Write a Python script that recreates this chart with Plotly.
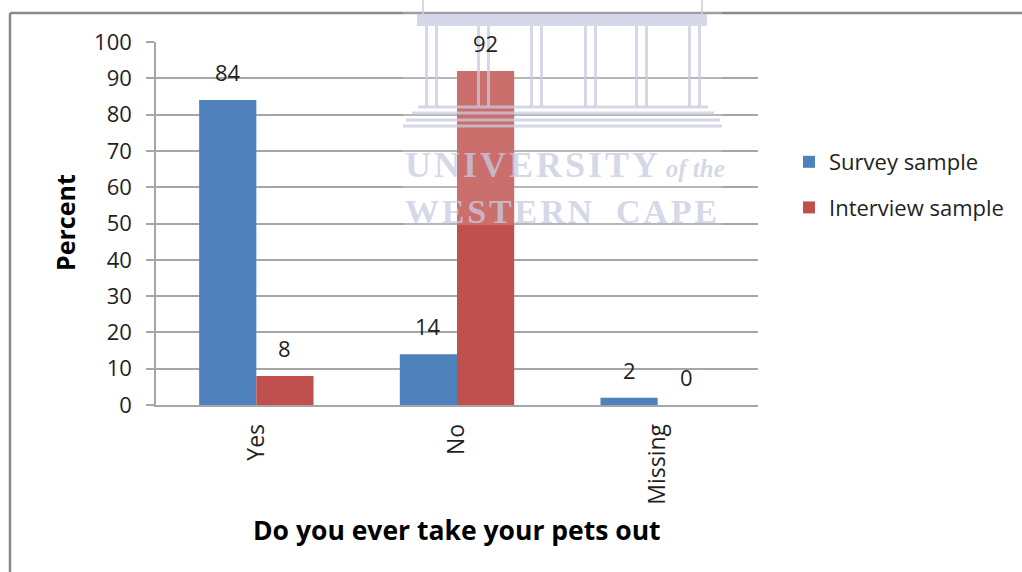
import plotly.graph_objects as go

# Responses to "Do you ever take your pets out" (percent)
categories = ["Yes", "No", "Missing"]
survey_sample = [84, 14, 2]
interview_sample = [8, 92, 0]
y_ticks = list(range(0, 101, 10))

BLUE = "#4f81bd"
RED = "#c0504d"
GRID = "#a6a6a6"
TEXT = "#1f1f1f"
FONT = "Open Sans"

W, H = 1022, 572
ML, MR, MT, MB = 156, 264, 42, 167
PW, PH = W - ML - MR, H - MT - MB
BARGAP = 0.43


def px(x):
    return (x - ML) / PW


def py(y):
    return (H - MB - y) / PH


fig = go.Figure()
fig.add_trace(go.Bar(
    name="Survey sample", x=categories, y=survey_sample,
    marker=dict(color=BLUE, line=dict(width=0)), legendgroup="a",
))
fig.add_trace(go.Bar(
    name="Interview sample", x=categories, y=interview_sample,
    marker=dict(color=RED, line=dict(width=0)), legendgroup="b",
))

# value labels above each bar, offset to the centre of its bar in the group
bar_w = PW / len(categories) * (1 - BARGAP) / 2
annotations = []
for values, shift in [(survey_sample, -bar_w / 2), (interview_sample, bar_w / 2)]:
    for cat, v in zip(categories, values):
        annotations.append(dict(
            x=cat, y=v, xref="x", yref="y", text=str(v), showarrow=False,
            xshift=shift, yshift=28, xanchor="center", yanchor="middle",
            font=dict(size=22, color=TEXT, family=FONT)))

shapes = []
# outer frame (top and left edges)
shapes.append(dict(type="line", xref="paper", yref="paper",
                   x0=px(10), x1=px(1030), y0=py(13), y1=py(13),
                   line=dict(color="#8a8a8a", width=2.5)))
shapes.append(dict(type="line", xref="paper", yref="paper",
                   x0=px(10), x1=px(10), y0=py(13), y1=py(580),
                   line=dict(color="#8a8a8a", width=2.5)))

# faint institutional watermark: building outline
WM = "rgba(200,203,225,0.75)"
shapes.append(dict(type="rect", xref="paper", yref="paper", layer="above",
                   x0=px(403), x1=px(722), y0=py(0), y1=py(225),
                   fillcolor="rgba(255,255,255,0.18)", line=dict(width=0)))
shapes.append(dict(type="rect", xref="paper", yref="paper", layer="above",
                   x0=px(417), x1=px(707), y0=py(14), y1=py(26),
                   fillcolor=WM, line=dict(width=0)))
for xx in (423, 702):
    shapes.append(dict(type="line", xref="paper", yref="paper", layer="above",
                       x0=px(xx), x1=px(xx), y0=py(0), y1=py(14),
                       line=dict(color=WM, width=2)))
for cx in [431, 483, 536, 590, 641, 694]:
    for dx in (-6, 4):
        shapes.append(dict(type="rect", xref="paper", yref="paper", layer="above",
                           x0=px(cx + dx), x1=px(cx + dx + 3), y0=py(26), y1=py(106),
                           fillcolor=WM, line=dict(width=0)))
for yy, x0, x1 in [(107, 418, 708), (113, 412, 714), (120, 406, 720), (126, 403, 722)]:
    shapes.append(dict(type="line", xref="paper", yref="paper", layer="above",
                       x0=px(x0), x1=px(x1), y0=py(yy), y1=py(yy),
                       line=dict(color=WM, width=3)))

HS = "\u200a"
annotations += [
    dict(text="Percent", x=px(65), y=py(223), xref="paper", yref="paper",
         textangle=-90, showarrow=False, xanchor="center", yanchor="middle",
         font=dict(size=25, color="#000", family=FONT, weight="bold")),
    dict(text="Do you ever take your pets out", x=px(457), y=py(530),
         xref="paper", yref="paper", showarrow=False,
         xanchor="center", yanchor="middle",
         font=dict(size=26.5, color="#000", family=FONT, weight="bold")),
    dict(text=HS.join("UNIVERSITY") + " <i><span style='font-size:25px'>of the</span></i>",
         x=px(403), y=py(165), xref="paper", yref="paper", showarrow=False,
         xanchor="left", yanchor="middle",
         font=dict(size=36, color=WM, family="Liberation Serif", weight="bold")),
    dict(text=HS.join("WESTERN") + "\u2002\u2009" + HS.join("CAPE"), x=px(403), y=py(212),
         xref="paper", yref="paper", showarrow=False,
         xanchor="left", yanchor="middle",
         font=dict(size=34, color=WM, family="Liberation Serif", weight="bold")),
]

fig.update_layout(
    width=W, height=H,
    margin=dict(l=ML, r=MR, t=MT, b=MB),
    paper_bgcolor="white", plot_bgcolor="white",
    barmode="group", bargap=BARGAP, bargroupgap=0,
    font=dict(family=FONT, size=22, color=TEXT),
    showlegend=True,
    legend=dict(x=px(789), y=py(185), xanchor="left", yanchor="middle",
                font=dict(size=22, color=TEXT, family=FONT),
                traceorder="grouped", tracegroupgap=14,
                itemwidth=30, bgcolor="rgba(0,0,0,0)"),
    shapes=shapes,
    annotations=annotations,
)
fig.update_xaxes(
    showline=True, linecolor=GRID, linewidth=1.5,
    ticks="", tickangle=-90, ticklabelstandoff=8,
    tickfont=dict(size=23, color=TEXT, family=FONT),
    showgrid=False,
)
fig.update_yaxes(
    range=[0, 100], tickvals=y_ticks,
    showline=True, linecolor=GRID, linewidth=1.5,
    ticks="outside", ticklen=8, tickcolor=GRID, tickwidth=1.5,
    showgrid=True, gridcolor=GRID, gridwidth=1.5,
    zeroline=False,
    tickfont=dict(size=22, color=TEXT, family=FONT),
    ticklabelstandoff=10,
)

fig.write_html("out.html")
